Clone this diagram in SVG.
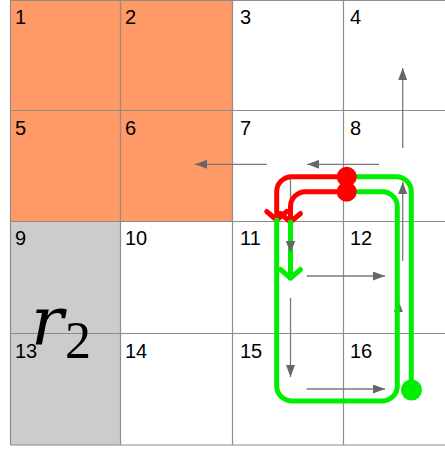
<svg xmlns="http://www.w3.org/2000/svg" width="445" height="449" viewBox="0 0 445 449">
<style>
.num{font-family:"Liberation Sans",Arial,sans-serif;font-size:20px;fill:#000}
.grid{stroke:#8c8c8c;stroke-width:1.2;fill:none}
.ga{stroke:#7a7a7a;stroke-width:1.3;fill:none;marker-end:url(#gh)}
.g{stroke:#00ee00;stroke-width:5;fill:none;stroke-linecap:round;stroke-linejoin:round}
.r{stroke:#ff0000;stroke-width:5;fill:none;stroke-linecap:round;stroke-linejoin:round}
.math{fill:#000}
</style>
<defs>
<marker id="gh" markerUnits="userSpaceOnUse" markerWidth="12" markerHeight="9" refX="12" refY="4.5" orient="auto" viewBox="0 0 12 9">
<path d="M0,0 L12,4.5 L0,9 z" fill="#666"/>
</marker>
</defs>
<rect width="445" height="449" fill="#fff"/>
<g id="cells">
<rect x="10" y="0.5" width="223" height="221" fill="#ff9966"/>
<rect x="10" y="221.5" width="110.5" height="223.5" fill="#cccccc"/>
</g>
<g id="gridlines" class="grid">
<path d="M10.5,0.5 V445 M120.5,0.5 V445 M232.5,0.5 V445 M343.5,0.5 V445"/>
<path d="M10,0.5 H445 M10,110.5 H445 M10,221.5 H445 M10,333.5 H445 M10,445 H445"/>
</g>
<g id="labels">
<text class="num" x="15" y="24">1</text>
<text class="num" x="125" y="24">2</text>
<text class="num" x="240" y="24">3</text>
<text class="num" x="350" y="24">4</text>
<text class="num" x="15" y="135">5</text>
<text class="num" x="125" y="135">6</text>
<text class="num" x="240" y="135">7</text>
<text class="num" x="350" y="135">8</text>
<text class="num" x="15" y="245">9</text>
<text class="num" x="125" y="245">10</text>
<text class="num" x="240" y="245">11</text>
<text class="num" x="350" y="245">12</text>
<text class="num" x="15" y="358">13</text>
<text class="num" x="125" y="358">14</text>
<text class="num" x="240" y="358">15</text>
<text class="num" x="350" y="358">16</text>
</g>
<g id="region-label">
<text class="math" x="31" y="345" font-size="68" font-style="italic" font-family="'DejaVu Serif',serif">r</text>
<text class="math" x="65" y="358" font-size="52" font-family="'Liberation Serif','Times New Roman',serif">2</text>
</g>
<g id="connectors">
<g id="gray-arrows">
<path class="ga" d="M402.7,148 V68"/>
<path class="ga" d="M266.7,164.3 H195"/>
<path class="ga" d="M379,164.3 H307.3"/>
<path class="ga" d="M290.5,175 V253"/>
<path class="ga" d="M306.7,276 H385"/>
<path class="ga" d="M402.7,261 V182"/>
<path class="ga" d="M290.5,298 V377"/>
<path class="ga" d="M306.7,389 H385"/>
<path class="ga" d="M398.3,378 V300"/>
</g>
<g id="route">
<path class="g" d="M411.3,390 V191.7 A15,15 0 0 0 396.3,176.7 H346.7"/>
<path class="r" d="M346.7,176.7 H291.7 A15,15 0 0 0 276.7,191.7 V220"/>
<path class="r" d="M266.7,211.5 L276.7,220 L286.7,211.5"/>
<path class="g" d="M276.7,220 V386 A15,15 0 0 0 291.7,401 H382.3 A15,15 0 0 0 397.3,386 V206.7 A15,15 0 0 0 382.3,191.7 H346.7"/>
<path class="r" d="M346.7,191.7 H305.5 A15,15 0 0 0 290.5,206.7 V222"/>
<path class="r" d="M280.5,213.5 L290.5,222 L300.5,213.5"/>
<path class="g" d="M290.5,222 V278"/>
<path class="g" d="M280.5,269.5 L290.5,278 L300.5,269.5"/>
<circle cx="346.7" cy="176.7" r="10" fill="#ff0000"/>
<circle cx="346.7" cy="191.7" r="10" fill="#ff0000"/>
<circle cx="411.5" cy="390" r="10.5" fill="#00ee00"/>
</g>
<path d="M286,241 L290.5,253 L295,241 z" fill="#666"/>
</g>
</svg>
